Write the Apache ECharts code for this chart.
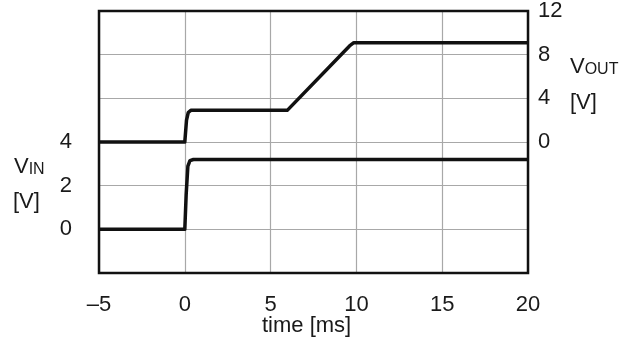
<!DOCTYPE html>
<html>
<head>
<meta charset="utf-8">
<script src="https://cdn.jsdelivr.net/npm/echarts@6/dist/echarts.min.js"></script>
<style>html,body{margin:0;padding:0;background:#fff}#c{width:629px;height:342px}</style>
</head>
<body>
<div id="c"></div>
<script>
// Time axis
const xTickLabels = {'-5': '\u20135', '0': '0', '5': '5', '10': '10', '15': '15', '20': '20'};
// Left axis (V_IN) labels shown
const vinTickLabels = ['0', '2', '4'];
// Right axis (V_OUT) labels shown
const voutTickLabels = ['0', '4', '8', '12'];

// V_IN trace [time ms, volts]
const vinTime = [-5, 0, 0.08, 0.18, 0.3, 0.5, 20];
const vinVals = [0, 0, 1.6, 2.9, 3.15, 3.2, 3.2];

// V_OUT trace [time ms, volts]
const voutTime = [-5, 0, 0.1, 0.2, 0.35, 5.97, 9.6, 9.85, 20];
const voutVals = [0, 0, 2.0, 2.7, 2.9, 2.9, 8.8, 9.1, 9.1];

const vinData = vinTime.map((t, i) => [t, vinVals[i]]);
const voutData = voutTime.map((t, i) => [t, voutVals[i]]);

const FONT = 'Liberation Sans, Arial, sans-serif';
const FS = 22;
const chart = echarts.init(document.getElementById('c'), null, {renderer: 'canvas'});
chart.setOption({
  animation: false,
  backgroundColor: '#fff',
  grid: {left: 99, right: 101, top: 11, bottom: 69, show: true, borderColor: '#111', borderWidth: 2.5, backgroundColor: 'transparent', z: 5},
  xAxis: {
    type: 'value', min: -5, max: 20, interval: 5,
    axisLine: {show: false}, axisTick: {show: false},
    splitLine: {show: true, lineStyle: {color: '#a8a8a8', width: 1.2}},
    axisLabel: {margin: 21, fontSize: FS, color: '#1a1a1a', fontFamily: FONT,
      formatter: v => xTickLabels[String(v)] ?? ''}
  },
  yAxis: [
    {
      type: 'value', min: -2, max: 10, interval: 2, position: 'left',
      axisLine: {show: false}, axisTick: {show: false},
      splitLine: {show: true, lineStyle: {color: '#a8a8a8', width: 1.2}},
      axisLabel: {margin: 27, fontSize: FS, color: '#1a1a1a', fontFamily: FONT, padding: [5, 0, 0, 0],
        formatter: v => vinTickLabels.includes(String(v)) ? String(v) : ''}
    },
    {
      type: 'value', min: -12, max: 12, interval: 4, position: 'right',
      axisLine: {show: false}, axisTick: {show: false}, splitLine: {show: false},
      axisLabel: {margin: 10, fontSize: FS, color: '#1a1a1a', fontFamily: FONT, padding: [7, 0, 0, 0],
        formatter: v => voutTickLabels.includes(String(v)) ? String(v) : ''}
    }
  ],
  series: [
    {type: 'line', yAxisIndex: 0, data: vinData, showSymbol: false, symbol: 'none',
      lineStyle: {color: '#111', width: 3.5, join: 'round'}},
    {type: 'line', yAxisIndex: 1, data: voutData, showSymbol: false, symbol: 'none',
      lineStyle: {color: '#111', width: 3.5, join: 'round'}}
  ],
  graphic: [
    {type: 'text', left: 14, top: 156, style: {
      text: '{a|V}{b|IN}', fill: '#1a1a1a', font: FS + 'px ' + FONT,
      rich: {a: {fontSize: FS, fontFamily: FONT, fill: '#1a1a1a'}, b: {fontSize: 16, fontFamily: FONT, fill: '#1a1a1a', verticalAlign: 'bottom'}}}},
    {type: 'text', left: 13, top: 191, style: {text: '[V]', fill: '#1a1a1a', font: FS + 'px ' + FONT}},
    {type: 'text', left: 570, top: 56, style: {
      text: '{a|V}{b|OUT}', fill: '#1a1a1a', font: FS + 'px ' + FONT,
      rich: {a: {fontSize: FS, fontFamily: FONT, fill: '#1a1a1a'}, b: {fontSize: 16, fontFamily: FONT, fill: '#1a1a1a', verticalAlign: 'bottom'}}}},
    {type: 'text', left: 570, top: 92, style: {text: '[V]', fill: '#1a1a1a', font: FS + 'px ' + FONT}},
    {type: 'text', left: 262, top: 315, style: {text: 'time [ms]', fill: '#1a1a1a', font: FS + 'px ' + FONT}}
  ]
});
</script>
</body>
</html>
